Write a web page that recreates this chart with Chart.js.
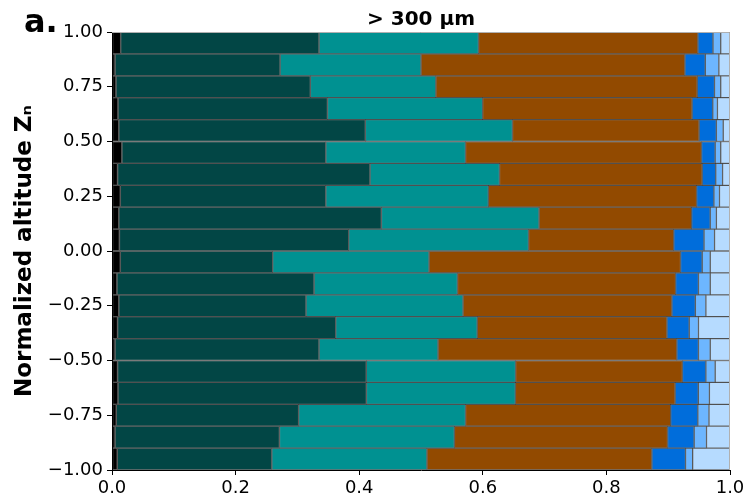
<!DOCTYPE html>
<html>
<head>
<meta charset="utf-8">
<script src="https://cdn.jsdelivr.net/npm/chart.js@4/dist/chart.umd.min.js"></script>
<style>
  html, body { margin: 0; padding: 0; background: #fff; }
  #wrap { width: 744px; height: 500px; }
</style>
</head>
<body>
<div id="wrap"><canvas id="myChart" width="744" height="500"></canvas></div>
<script>
// altitude bins (bin centres), top to bottom
var altitudes = [0.95, 0.85, 0.75, 0.65, 0.55, 0.45, 0.35, 0.25, 0.15, 0.05,
                 -0.05, -0.15, -0.25, -0.35, -0.45, -0.55, -0.65, -0.75, -0.85, -0.95];

// fraction of each class per bin
var class1 = [0.014, 0.005, 0.0065, 0.0097, 0.011, 0.016, 0.009, 0.0135, 0.011, 0.012,
              0.0135, 0.008, 0.011, 0.009, 0.005, 0.009, 0.0097, 0.007, 0.005, 0.0086];
var class2 = [0.321, 0.267, 0.3145, 0.339, 0.399, 0.330, 0.4085, 0.3325, 0.425, 0.371,
              0.2465, 0.319, 0.303, 0.353, 0.330, 0.4025, 0.402, 0.295, 0.266, 0.250];
var class3 = [0.258, 0.228, 0.203, 0.251, 0.238, 0.226, 0.2095, 0.263, 0.255, 0.291,
              0.253, 0.232, 0.254, 0.229, 0.1925, 0.2415, 0.241, 0.270, 0.283, 0.251];
var class4 = [0.355, 0.427, 0.423, 0.339, 0.302, 0.382, 0.328, 0.337, 0.247, 0.235,
              0.407, 0.353, 0.338, 0.307, 0.3865, 0.270, 0.2585, 0.332, 0.345, 0.364];
var class5 = [0.0245, 0.033, 0.028, 0.0335, 0.028, 0.022, 0.022, 0.028, 0.030, 0.049,
              0.035, 0.037, 0.038, 0.036, 0.035, 0.038, 0.0375, 0.044, 0.043, 0.0545];
var class6 = [0.0125, 0.022, 0.010, 0.0075, 0.011, 0.009, 0.011, 0.009, 0.010, 0.017,
              0.013, 0.019, 0.017, 0.015, 0.019, 0.015, 0.018, 0.018, 0.020, 0.0115];
var class7 = [0.015, 0.018, 0.015, 0.020, 0.011, 0.015, 0.012, 0.017, 0.022, 0.025,
              0.032, 0.032, 0.039, 0.051, 0.032, 0.024, 0.033, 0.034, 0.038, 0.060];

var classColors = ["#000000", "#024645", "#009191", "#924a00", "#006ddb", "#6db6ff", "#b6dbff"];
var series = [class1, class2, class3, class4, class5, class6, class7];

var FONT = "'DejaVu Sans', sans-serif";

// panel letter and title over the plot area
var textPlugin = {
    id: "panelText",
    afterDraw: function (chart) {
        var ctx = chart.ctx;
        var area = chart.chartArea;
        ctx.save();
        ctx.fillStyle = "#000";
        ctx.textBaseline = "alphabetic";
        ctx.font = "bold 20px " + FONT;
        ctx.textAlign = "center";
        ctx.fillText("> 300 \u00b5m", (area.left + area.right) / 2, 25);
        ctx.font = "bold 32px " + FONT;
        ctx.textAlign = "left";
        ctx.fillText("a.", 24, 32);
        // thin frame on the top and right sides
        ctx.strokeStyle = "#b0b0b0";
        ctx.lineWidth = 1;
        ctx.beginPath();
        ctx.moveTo(area.left, area.top + 0.5);
        ctx.lineTo(area.right - 0.5, area.top + 0.5);
        ctx.lineTo(area.right - 0.5, area.bottom);
        ctx.stroke();
        ctx.restore();
    }
};

new Chart("myChart", {
    type: "bar",
    data: {
        labels: altitudes,
        datasets: series.map(function (vals, i) {
            return {
                data: vals,
                backgroundColor: classColors[i],
                borderColor: "rgba(0,0,0,0.55)",
                borderWidth: 1,
                borderSkipped: false,
                categoryPercentage: 1.0,
                barPercentage: 1.0
            };
        })
    },
    options: {
        indexAxis: "y",
        responsive: false,
        animation: false,
        layout: { padding: { top: 32, right: 14, left: 0, bottom: 0 } },
        plugins: {
            legend: { display: false },
            tooltip: { enabled: false }
        },
        scales: {
            x: {
                type: "linear",
                stacked: true,
                min: 0,
                max: 1,
                afterFit: function (s) {
                    s.height = 30;
                    s.paddingLeft = 0;
                    s.paddingRight = 0;
                },
                border: { display: true, color: "#000", width: 1 },
                grid: { drawOnChartArea: false, drawTicks: true, tickLength: 5, tickColor: "#000" },
                ticks: {
                    stepSize: 0.2,
                    padding: 3,
                    color: "#000",
                    font: { family: FONT, size: 18 },
                    maxRotation: 0,
                    callback: function (v) { return v.toFixed(1); }
                }
            },
            y: {
                type: "linear",
                stacked: true,
                min: -1,
                max: 1,
                offset: false,
                afterFit: function (s) { s.width = 112; },
                border: { display: true, color: "#000", width: 1 },
                grid: { offset: false, drawOnChartArea: false, drawTicks: true, tickLength: 5, tickColor: "#000" },
                ticks: {
                    stepSize: 0.25,
                    padding: 4,
                    color: "#000",
                    font: { family: FONT, size: 18 },
                    callback: function (v) {
                        var s = Math.abs(v).toFixed(2);
                        return v < 0 ? "\u2212" + s : s;
                    }
                },
                title: {
                    display: true,
                    text: "Normalized altitude Z\u2099",
                    color: "#000",
                    font: { family: FONT, size: 23, weight: "bold" },
                    padding: { top: 11, bottom: 0 }
                }
            }
        }
    },
    plugins: [textPlugin]
});
</script>
</body>
</html>
